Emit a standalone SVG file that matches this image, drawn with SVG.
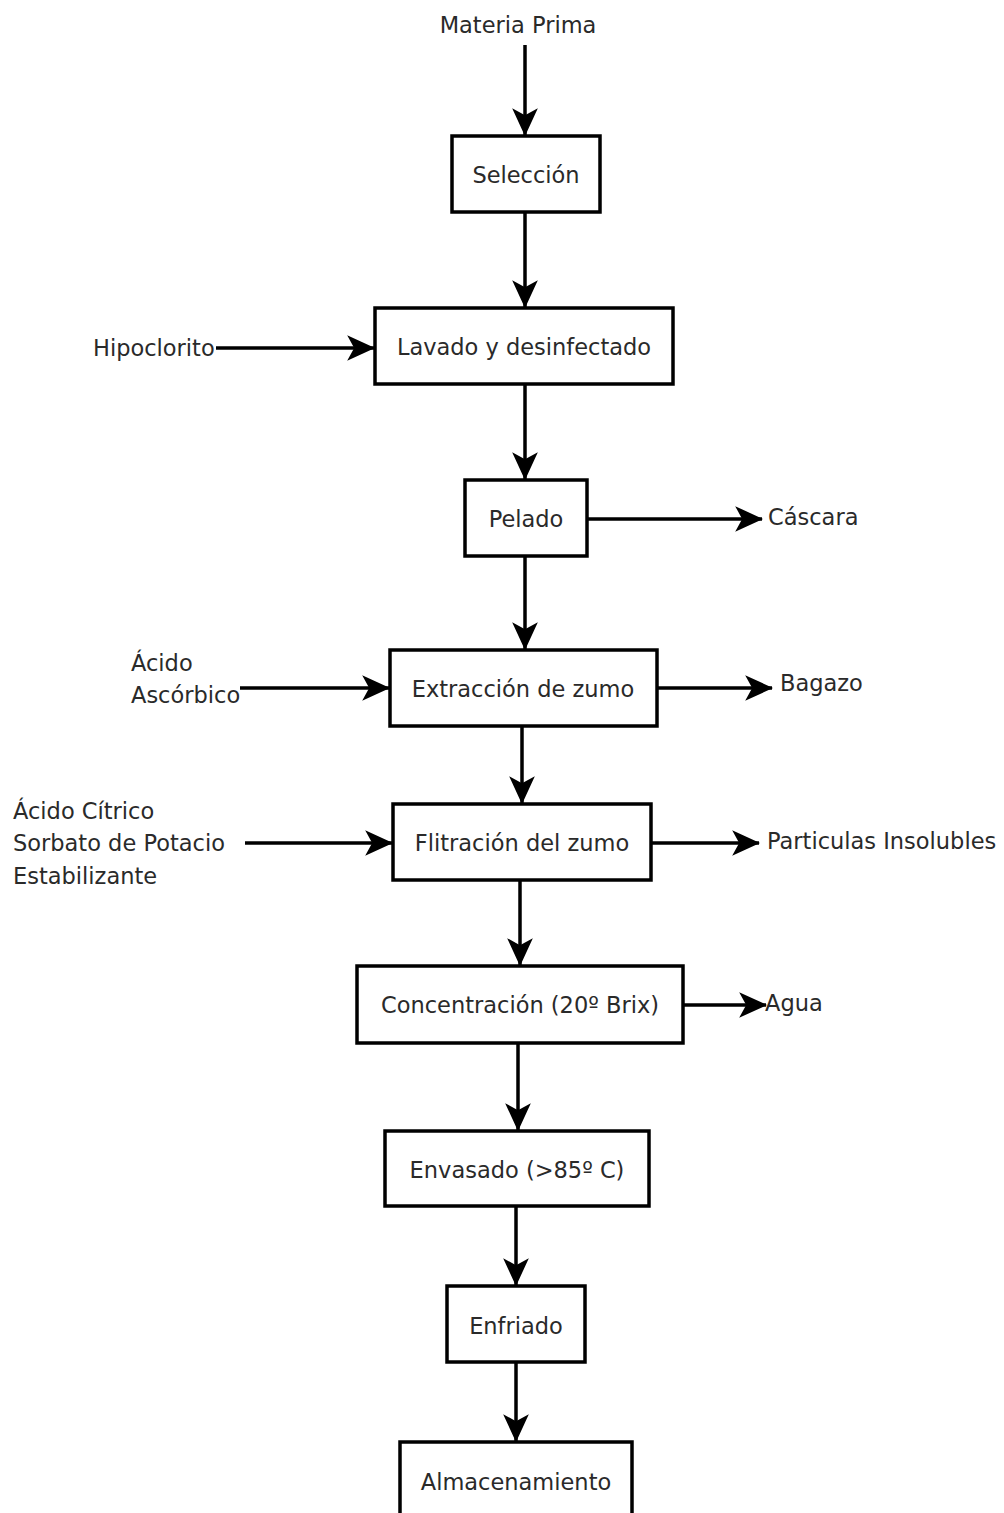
<svg xmlns="http://www.w3.org/2000/svg" width="1004" height="1513" viewBox="0 0 1004 1513">
<style>
text{font-family:"DejaVu Sans","Liberation Sans",sans-serif;font-size:22.5px;fill:#2a2a2a}
.c{text-anchor:middle}
.box{fill:#fff;stroke:#000;stroke-width:3.5}
.ln{stroke:#000;stroke-width:3.5;fill:none;marker-end:url(#ah)}
</style>
<defs>
<marker id="ah" markerUnits="userSpaceOnUse" markerWidth="28" markerHeight="28" viewBox="0 0 24 24" refX="23" refY="12" orient="auto">
<path d="M0,1 L24,12 L0,23 L6,12 Z" fill="#000"/>
</marker>
</defs>
<rect width="1004" height="1513" fill="#fff"/>
<g id="connectors">
<line class="ln" x1="525" y1="45" x2="525" y2="135"/>
<line class="ln" x1="525" y1="212" x2="525" y2="307"/>
<line class="ln" x1="216" y1="348" x2="374" y2="348"/>
<line class="ln" x1="525" y1="384" x2="525" y2="479"/>
<line class="ln" x1="587" y1="519" x2="762" y2="519"/>
<line class="ln" x1="525" y1="556" x2="525" y2="649"/>
<line class="ln" x1="240" y1="688" x2="389" y2="688"/>
<line class="ln" x1="657" y1="688" x2="772" y2="688"/>
<line class="ln" x1="522" y1="726" x2="522" y2="803"/>
<line class="ln" x1="245" y1="843" x2="392" y2="843"/>
<line class="ln" x1="651" y1="843" x2="759" y2="843"/>
<line class="ln" x1="520" y1="880" x2="520" y2="965"/>
<line class="ln" x1="683" y1="1005" x2="766" y2="1005"/>
<line class="ln" x1="518" y1="1043" x2="518" y2="1130"/>
<line class="ln" x1="516" y1="1206" x2="516" y2="1285"/>
<line class="ln" x1="516" y1="1362" x2="516" y2="1441"/>
</g>
<g id="materia-prima"><text class="c" x="518" y="33">Materia Prima</text></g>
<g id="seleccion"><rect class="box" x="452" y="136" width="148" height="76"/><text class="c" x="526" y="183">Selección</text></g>
<g id="hipoclorito"><text x="93" y="356">Hipoclorito</text></g>
<g id="lavado"><rect class="box" x="375" y="308" width="298" height="76"/><text class="c" x="524" y="355">Lavado y desinfectado</text></g>
<g id="pelado"><rect class="box" x="465" y="480" width="122" height="76"/><text class="c" x="526" y="527">Pelado</text></g>
<g id="cascara"><text x="768" y="525">Cáscara</text></g>
<g id="acido-ascorbico"><text x="131" y="671">Ácido</text><text x="131" y="703">Ascórbico</text></g>
<g id="extraccion"><rect class="box" x="390" y="650" width="267" height="76"/><text class="c" x="523" y="697">Extracción de zumo</text></g>
<g id="bagazo"><text x="780" y="691">Bagazo</text></g>
<g id="aditivos"><text x="13" y="819">Ácido Cítrico</text><text x="13" y="851">Sorbato de Potacio</text><text x="13" y="884">Estabilizante</text></g>
<g id="filtracion"><rect class="box" x="393" y="804" width="258" height="76"/><text class="c" x="522" y="851">Flitración del zumo</text></g>
<g id="particulas"><text x="767" y="849">Particulas Insolubles</text></g>
<g id="concentracion"><rect class="box" x="357" y="966" width="326" height="77"/><text class="c" x="520" y="1013">Concentración (20º Brix)</text></g>
<g id="agua"><text x="765" y="1011">Agua</text></g>
<g id="envasado"><rect class="box" x="385" y="1131" width="264" height="75"/><text class="c" x="517" y="1178">Envasado (&gt;85º C)</text></g>
<g id="enfriado"><rect class="box" x="447" y="1286" width="138" height="76"/><text class="c" x="516" y="1334">Enfriado</text></g>
<g id="almacenamiento"><rect class="box" x="400" y="1442" width="232" height="90"/><text class="c" x="516" y="1490">Almacenamiento</text></g>
</svg>
